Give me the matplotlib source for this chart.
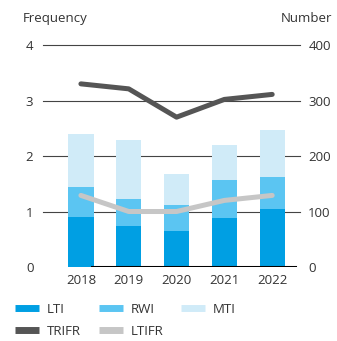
import matplotlib.pyplot as plt
from matplotlib.lines import Line2D

plt.rcParams['font.family'] = ['Open Sans', 'DejaVu Sans']

years = ['2018', '2019', '2020', '2021', '2022']
lti = [91, 73, 64, 89, 104]
rwi = [54, 49, 47, 67, 59]
mti = [94, 106, 56, 63, 83]
trifr = [3.30, 3.21, 2.70, 3.02, 3.11]
ltifr = [1.29, 1.0, 1.0, 1.2, 1.29]

c_lti = '#009fe3'
c_rwi = '#5bc5f2'
c_mti = '#d0ebf8'
c_trifr = '#555555'
c_ltifr = '#c6c6c6'
txt = '#333333'

fig = plt.figure(figsize=(3.37, 3.41), dpi=100)
ax = fig.add_axes([0.128, 0.217, 0.762, 0.651])
ax2 = ax.twinx()

x = list(range(len(years)))
w = 0.53
base2 = [a + b for a, b in zip(lti, rwi)]
ax.bar(x, lti, w, color=c_lti, zorder=2)
ax.bar(x, rwi, w, bottom=lti, color=c_rwi, zorder=2)
ax.bar(x, mti, w, bottom=base2, color=c_mti, zorder=2)

for v in [100, 200, 300, 400]:
    ax.axhline(v, color='#444444', lw=0.8, zorder=1, clip_on=False)
ax.axhline(0, xmin=0.19, xmax=0.98, color='black', lw=2.2, zorder=3)

ax.set_xlim(-0.79, 4.58)
ax.set_ylim(0, 400)
ax2.set_ylim(0, 4)

# lines sit on the twin axis so they are drawn over the bars
ax2.plot(x, trifr, color=c_trifr, lw=3.6, solid_capstyle='round', zorder=4)
ax2.plot(x, ltifr, color=c_ltifr, lw=3.6, solid_capstyle='round', zorder=4)

ax.yaxis.tick_right()
ax2.yaxis.tick_left()
ax.set_yticks([0, 100, 200, 300, 400])
ax2.set_yticks([0, 1, 2, 3, 4])
ax.set_xticks(x)
ax.set_xticklabels(years)
for a in (ax, ax2):
    for s in a.spines.values():
        s.set_visible(False)
    a.tick_params(length=0, labelsize=9.5, colors=txt)
ax.tick_params(axis='y', pad=6)
ax2.tick_params(axis='y', pad=7)
ax.tick_params(axis='x', pad=5)

fig.text(0.068, 0.945, 'Frequency', fontsize=9.5, color=txt, va='center')
fig.text(0.985, 0.945, 'Number', fontsize=9.5, color=txt, va='center', ha='right')

handles = [
    Line2D([], [], color=c_lti, lw=5, solid_capstyle='butt'),
    Line2D([], [], color=c_trifr, lw=5, solid_capstyle='butt'),
    Line2D([], [], color=c_rwi, lw=5, solid_capstyle='butt'),
    Line2D([], [], color=c_ltifr, lw=5, solid_capstyle='butt'),
    Line2D([], [], color=c_mti, lw=5, solid_capstyle='butt'),
]
labels = ['LTI', 'TRIFR', 'RWI', 'LTIFR', 'MTI']
fig.legend(handles, labels, ncol=3, loc='upper left', bbox_to_anchor=(0.03, 0.128),
           frameon=False, fontsize=9.5, handlelength=1.8, handletextpad=0.6,
           columnspacing=1.35, labelspacing=0.7, borderaxespad=0, labelcolor=txt)

fig.savefig('out.png', dpi=100)
